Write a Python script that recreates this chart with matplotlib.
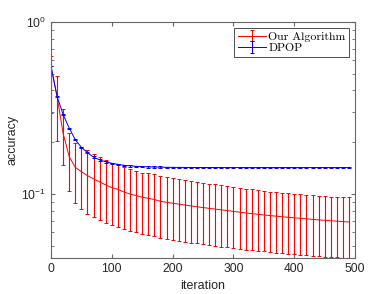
import matplotlib
matplotlib.use("Agg")
import matplotlib.pyplot as plt
import numpy as np

plt.rcParams['font.family'] = ['Liberation Sans', 'DejaVu Sans']
plt.rcParams['mathtext.default'] = 'regular'

iterations = np.arange(0, 500, 10)

# Our Algorithm: mean and upper/lower ends of the error bars
ours_mean = [0.555, 0.37, 0.225, 0.165, 0.143, 0.135, 0.128, 0.1226, 0.1177, 0.113,
             0.109, 0.1065, 0.1028, 0.100, 0.098, 0.0958, 0.0945, 0.093, 0.0908, 0.0896,
             0.0885, 0.0874, 0.0864, 0.0854, 0.0844, 0.0835, 0.0826, 0.0818, 0.0810, 0.0802,
             0.0793, 0.0785, 0.0777, 0.0770, 0.0763, 0.0756, 0.0750, 0.0744, 0.0738, 0.0733,
             0.0728, 0.0723, 0.0718, 0.0713, 0.0708, 0.0704, 0.0700, 0.0696, 0.0692, 0.0688]
ours_hi = [0.634, 0.487, 0.312, 0.225, 0.197, 0.189, 0.180, 0.172, 0.165, 0.158,
           0.152, 0.149, 0.143, 0.139, 0.136, 0.133, 0.132, 0.130, 0.127, 0.1255,
           0.124, 0.1225, 0.121, 0.1195, 0.118, 0.1165, 0.115, 0.1137, 0.1125, 0.111,
           0.110, 0.1088, 0.1076, 0.1064, 0.1052, 0.1042, 0.1035, 0.1025, 0.1015, 0.1008,
           0.1001, 0.0995, 0.0989, 0.0983, 0.0977, 0.0972, 0.0967, 0.0963, 0.0960, 0.0957]
ours_lo = [0.297, 0.204, 0.1475, 0.1045, 0.089, 0.0815, 0.0765, 0.0732, 0.0703, 0.0678,
           0.066, 0.0645, 0.0626, 0.0612, 0.0601, 0.0585, 0.0575, 0.0567, 0.0553, 0.0547,
           0.0541, 0.0535, 0.0529, 0.0523, 0.0517, 0.0511, 0.0505, 0.0500, 0.0495, 0.0490,
           0.0485, 0.0480, 0.0476, 0.0472, 0.0468, 0.0464, 0.0460, 0.0457, 0.0453, 0.0450,
           0.0447, 0.0444, 0.0441, 0.0438, 0.0436, 0.0433, 0.0431, 0.0428, 0.0426, 0.0424]

# DPOP
dpop_mean = [0.555, 0.37, 0.29, 0.242, 0.207, 0.187, 0.174, 0.164, 0.158, 0.154,
             0.151, 0.149, 0.147, 0.146, 0.145, 0.1444, 0.144, 0.1436, 0.1433, 0.1431,
             0.1430, 0.1429, 0.1428, 0.1428, 0.1427, 0.1427, 0.1427, 0.1426, 0.1426, 0.1426,
             0.1426, 0.1426, 0.1426, 0.1426, 0.1426, 0.1426, 0.1426, 0.1426, 0.1426, 0.1426,
             0.1426, 0.1426, 0.1426, 0.1426, 0.1426, 0.1426, 0.1426, 0.1426, 0.1426, 0.1426]
dpop_std = 0.0015

ours_mean = np.array(ours_mean)
ours_err = [ours_mean - np.array(ours_lo), np.array(ours_hi) - ours_mean]

fig = plt.figure(figsize=(3.92, 2.94), dpi=100)
ax = fig.add_axes([0.130, 0.1224, 0.776, 0.8027])

ax.errorbar(iterations, ours_mean, yerr=ours_err, color='r', ecolor='r',
            lw=0.7, elinewidth=0.8, capsize=1.5, capthick=0.7, label='Our Algorithm')
ax.errorbar(iterations, dpop_mean, yerr=dpop_std, color='b', ecolor='b',
            lw=0.7, elinewidth=0.8, capsize=1.5, capthick=0.7, label='DPOP')

ax.set_yscale('log')
ax.set_xlim(0, 500)
ax.set_ylim(0.0425, 1)
ax.set_xticks([0, 100, 200, 300, 400, 500])

for s in ax.spines.values():
    s.set_color('0.4')
    s.set_linewidth(0.8)
ax.tick_params(which='both', direction='in', top=True, right=True,
               colors='0.4', labelcolor='0.15', labelsize=8.7)
ax.tick_params(which='major', length=3)
ax.tick_params(which='minor', length=2)

ax.set_xlabel('iteration', fontsize=9, color='0.15', labelpad=4)
ax.set_ylabel('accuracy', fontsize=9, color='0.15', labelpad=2)

leg = ax.legend(loc='upper right', prop={'family': 'cmr10', 'size': 8.5},
                handlelength=2.4, handletextpad=0.2, borderaxespad=0.5,
                borderpad=0.3, labelspacing=0.1, fancybox=False, framealpha=1)
leg.get_frame().set_edgecolor('0.3')
leg.get_frame().set_linewidth(0.7)

plt.savefig('out.png', dpi=100)
